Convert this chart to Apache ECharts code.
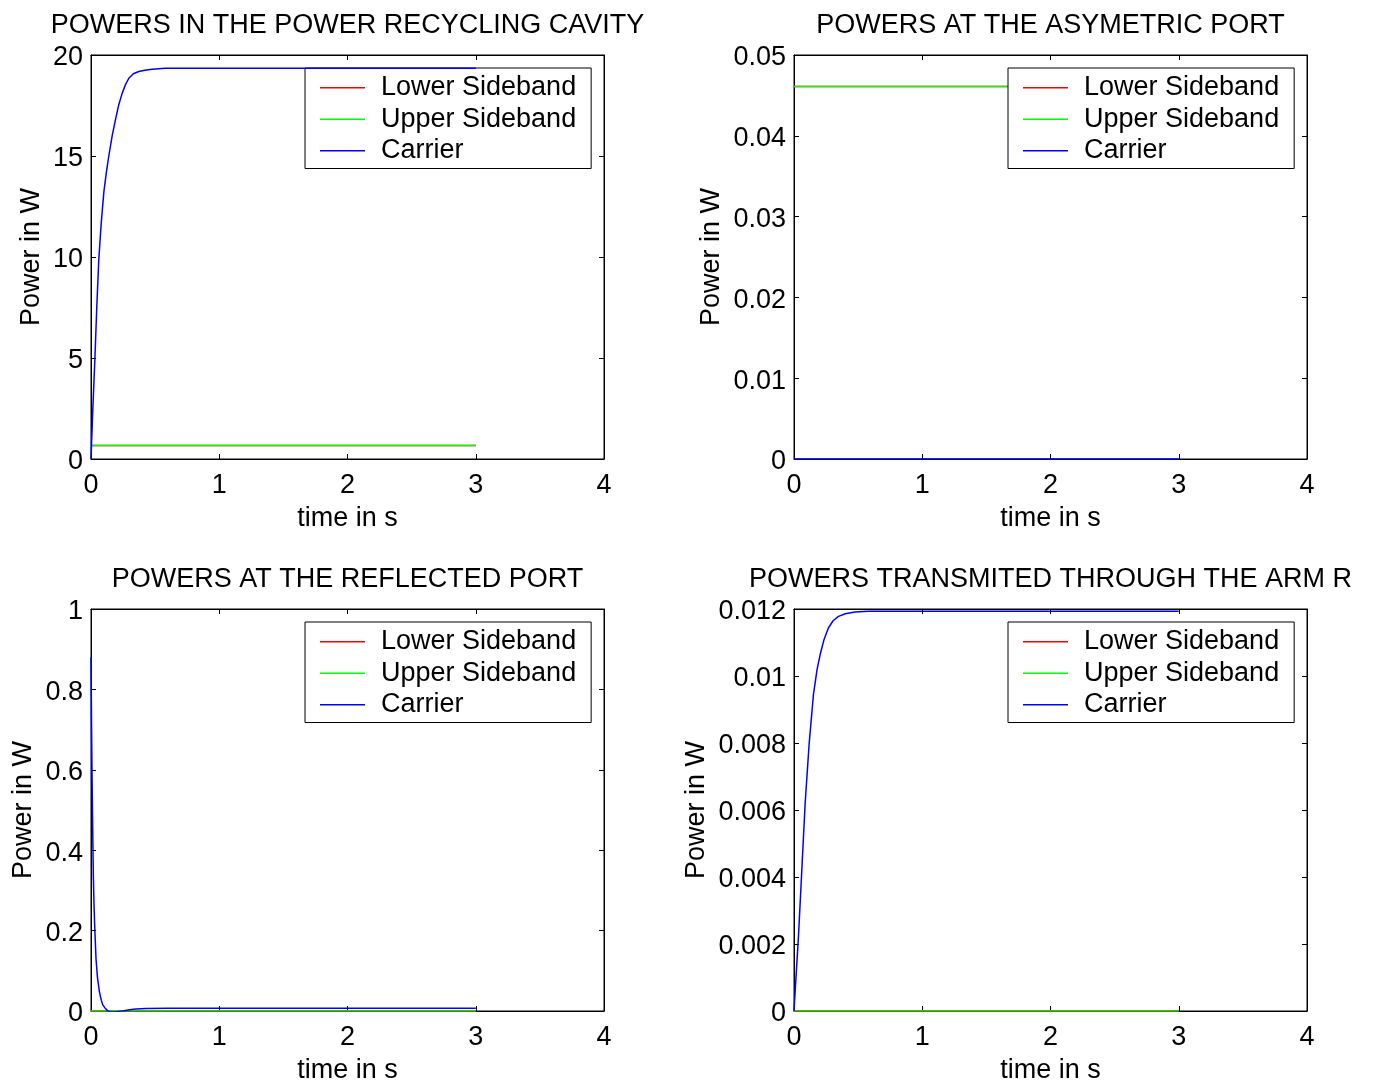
<!DOCTYPE html>
<html>
<head>
<meta charset="utf-8">
<title>Powers in the interferometer</title>
<script src="https://cdn.jsdelivr.net/npm/echarts@6/dist/echarts.min.js"></script>
<style>
  html, body { margin: 0; padding: 0; background: #fff; }
  #chart { width: 1374px; height: 1085px; }
</style>
</head>
<body>
<div id="chart"></div>
<script>
// ---- data (time in s, power in W) ----
const seriesNames = ['Lower Sideband', 'Upper Sideband', 'Carrier'];
const seriesColors = ['#ff0000', '#00ff00', '#0000ff'];
const panelTitles = [
  'POWERS IN THE POWER RECYCLING CAVITY',
  'POWERS AT THE ASYMETRIC PORT',
  'POWERS AT THE REFLECTED PORT',
  'POWERS TRANSMITED THROUGH THE ARM R'
];
const xTicks = [0, 1, 2, 3, 4];
const yMaxes = [20, 0.05, 1, 0.012];
const yIntervals = [5, 0.01, 0.2, 0.002];

// sidebands are flat over the whole run
const sidebandTime = [0, 3];
const lowerPRC = [0.67, 0.67];
const upperPRC = [0.67, 0.67];
const lowerASY = [0.0461, 0.0461];
const upperASY = [0.0461, 0.0461];
const lowerREF = [0, 0];
const upperREF = [0, 0];
const lowerARM = [0, 0];
const upperARM = [0, 0];

// carrier, power recycling cavity
const timePRC = [0, 0.015, 0.03, 0.045, 0.061, 0.08, 0.1, 0.12, 0.139, 0.165, 0.191, 0.217, 0.243, 0.27, 0.295, 0.33, 0.373, 0.42, 0.477, 0.58, 0.8, 1.0, 2.0, 3.0];
const carrierPRC = [0, 2.6, 4.9, 7.5, 9.9, 11.7, 13.2, 14.2, 15.0, 16.0, 16.8, 17.55, 18.1, 18.55, 18.85, 19.07, 19.18, 19.25, 19.3, 19.34, 19.35, 19.35, 19.35, 19.35];

// carrier, asymmetric port
const timeASY = [0, 3];
const carrierASY = [0, 0];

// carrier, reflected port
const timeREF = [0, 0.004, 0.008, 0.013, 0.018, 0.023, 0.029, 0.039, 0.05, 0.065, 0.08, 0.091, 0.11, 0.13, 0.15, 0.169, 0.2, 0.247, 0.3, 0.35, 0.43, 0.6, 1.0, 2.0, 3.0];
const carrierREF = [0.88, 0.72, 0.59, 0.46, 0.34, 0.27, 0.21, 0.13, 0.085, 0.049, 0.027, 0.016, 0.007, 0.001, -0.002, -0.003, -0.002, 0.0, 0.003, 0.005, 0.006, 0.007, 0.007, 0.007, 0.007];

// carrier, transmitted through arm R
const timeARM = [0, 0.017, 0.035, 0.061, 0.087, 0.118, 0.152, 0.18, 0.204, 0.235, 0.269, 0.305, 0.347, 0.4, 0.477, 0.58, 1.0, 2.0, 3.0];
const carrierARM = [0, 0.0011, 0.00224, 0.00421, 0.0062, 0.00797, 0.00946, 0.0102, 0.01064, 0.0111, 0.01144, 0.01165, 0.01178, 0.01186, 0.01191, 0.01193, 0.01193, 0.01193, 0.01193];

const panelData = [
  [[sidebandTime, lowerPRC], [sidebandTime, upperPRC], [timePRC, carrierPRC]],
  [[sidebandTime, lowerASY], [sidebandTime, upperASY], [timeASY, carrierASY]],
  [[sidebandTime, lowerREF], [sidebandTime, upperREF], [timeREF, carrierREF]],
  [[sidebandTime, lowerARM], [sidebandTime, upperARM], [timeARM, carrierARM]]
];

// ---- layout ----
const FONT = "'Liberation Sans', Arial, Helvetica, sans-serif";
const FS = 27;
const plotW = 513, plotH = 404;
const panelPos = [
  { left: 91, top: 55, yNameGap: 46 },
  { left: 794, top: 55, yNameGap: 69 },
  { left: 91, top: 609, yNameGap: 54 },
  { left: 794, top: 609, yNameGap: 84 }
];

const zip = (xs, ys) => xs.map((x, i) => [x, ys[i]]);

const grid = [], xAxis = [], yAxis = [], series = [], title = [], legend = [];
const lineAxis = { show: true, onZero: false, lineStyle: { color: '#000', width: 1 } };
const tickIn = { show: true, inside: true, length: 5, lineStyle: { color: '#000', width: 1 } };

panelPos.forEach((p, i) => {
  grid.push({ left: p.left, top: p.top, width: plotW, height: plotH, show: true,
    borderColor: '#000', borderWidth: 1, backgroundColor: '#fff' });

  const xBase = { type: 'value', gridIndex: i, min: xTicks[0], max: xTicks[xTicks.length - 1], interval: 1,
    axisLine: lineAxis, axisTick: tickIn, splitLine: { show: false } };
  xAxis.push(Object.assign({}, xBase, {
    position: 'bottom',
    name: 'time in s', nameLocation: 'middle', nameGap: 46,
    nameTextStyle: { fontSize: FS, color: '#000', fontFamily: FONT },
    axisLabel: { fontSize: FS, color: '#000', fontFamily: FONT, margin: 13 }
  }));
  xAxis.push(Object.assign({}, xBase, { position: 'top', axisLabel: { show: false } }));

  const yBase = { type: 'value', gridIndex: i, min: 0, max: yMaxes[i], interval: yIntervals[i],
    axisLine: lineAxis, axisTick: tickIn, splitLine: { show: false } };
  yAxis.push(Object.assign({}, yBase, {
    position: 'left',
    name: 'Power in W', nameLocation: 'middle', nameGap: p.yNameGap,
    nameTextStyle: { fontSize: FS, color: '#000', fontFamily: FONT },
    axisLabel: {
      color: '#000', margin: 8,
      formatter: '{v|{value}}',
      rich: { v: { fontSize: FS, color: '#000', fontFamily: FONT, padding: [6, 0, 0, 0] } }
    }
  }));
  yAxis.push(Object.assign({}, yBase, { position: 'right', axisLabel: { show: false } }));

  title.push({
    text: panelTitles[i],
    left: p.left + plotW / 2, top: p.top - 43, textAlign: 'center', padding: 0,
    textStyle: { fontSize: FS, fontWeight: 'normal', color: '#000', fontFamily: FONT }
  });

  legend.push({
    data: seriesNames.map((n, k) => ({ name: n, itemStyle: { color: seriesColors[k] } })),
    orient: 'vertical',
    left: p.left + 214, top: p.top + 13,
    padding: [4, 15, 2, 15],
    itemGap: 0,
    itemWidth: 45, itemHeight: 1.3,
    icon: 'rect',
    borderColor: '#000', borderWidth: 1, borderRadius: 0,
    backgroundColor: '#fff',
    selectedMode: false,
    textStyle: { fontSize: FS, color: '#000', fontFamily: FONT, lineHeight: 31.5, padding: [0, 0, 0, 11] }
  });

  panelData[i].forEach((pair, k) => {
    series.push({
      name: seriesNames[k],
      type: 'line',
      xAxisIndex: 2 * i, yAxisIndex: 2 * i,
      data: zip(pair[0], pair[1]),
      showSymbol: false,
      smooth: false,
      color: seriesColors[k],
      itemStyle: { color: seriesColors[k] },
      lineStyle: { color: seriesColors[k], width: 1.5 },
      z: 2 + k
    });
  });
});

const chart = echarts.init(document.getElementById('chart'), null, { renderer: 'canvas' });
chart.setOption({
  animation: false,
  backgroundColor: '#fff',
  textStyle: { fontFamily: FONT },
  title, legend, grid, xAxis, yAxis, series
});
</script>
</body>
</html>
